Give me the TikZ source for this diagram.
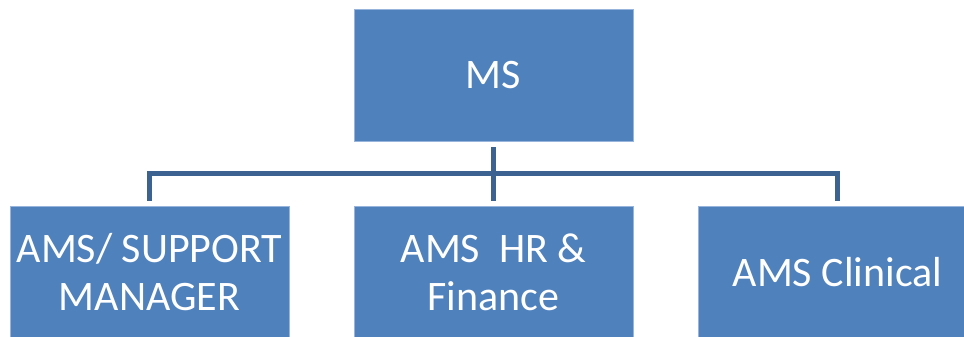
\documentclass[tikz,border=0pt]{standalone}
\usepackage{fontspec}
\setmainfont{Carlito}
\definecolor{boxblue}{RGB}{79,129,189}
\definecolor{boxedge}{RGB}{150,180,220}
\definecolor{linkblue}{RGB}{60,98,146}
\begin{document}
\begin{tikzpicture}[x=1pt,y=-1pt,
  orgbox/.style={rectangle, fill=boxblue, draw=boxedge, line width=0.8pt,
    minimum width=279pt, minimum height=132pt, inner sep=0pt,
    text=white, align=center, font=\fontsize{42}{48}\selectfont},
  conn/.style={draw=linkblue, line width=5pt, line join=miter}]
\useasboundingbox (0,0) rectangle (964,337);
\clip (0,0) rectangle (964,337);
\node[orgbox] (ms) at (493.5,75) {MS};
\node[orgbox] (sup) at (149.5,272) {AMS/ SUPPORT\\MANAGER};
\node[orgbox] (hr) at (493.5,272) {AMS\ \ HR \&\\Finance};
\node[orgbox] (cli) at (837.5,272) {AMS Clinical};
\draw[conn, shorten <=6pt] (ms.south) -- ++(0,32.5) coordinate (j);
\draw[conn, shorten >=5pt] (j) -| (sup.north);
\draw[conn, shorten >=5pt] (j) -- (hr.north);
\draw[conn, shorten >=5pt] (j) -| (cli.north);
\end{tikzpicture}
\end{document}
